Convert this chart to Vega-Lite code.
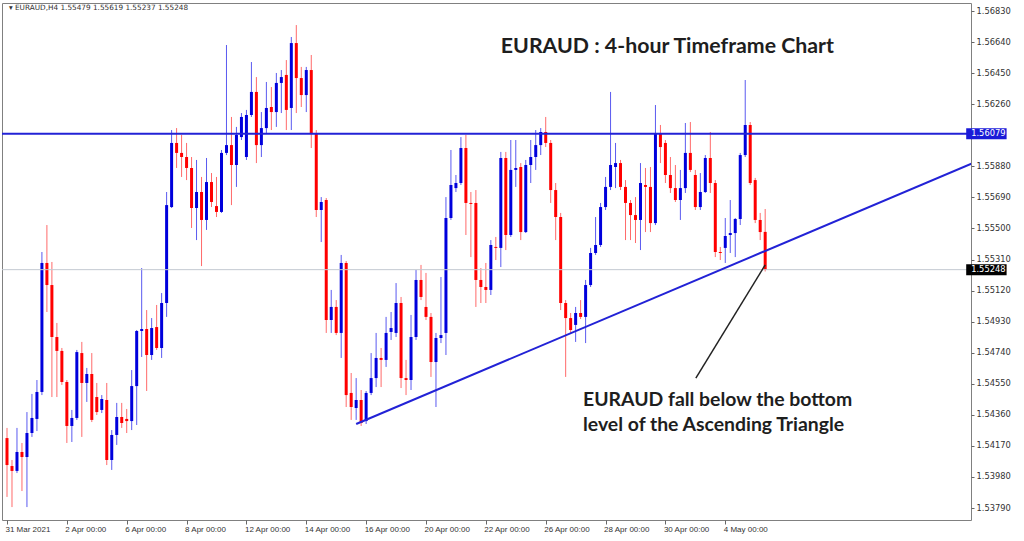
{
"$schema": "https://vega.github.io/schema/vega-lite/v6.json",
"width": 969, "height": 517,
"autosize": {"type": "none"},
"padding": {"left": 2, "top": 3, "right": 53, "bottom": 21},
"background": "white",
"config": {"view": {"stroke": "#808080", "strokeWidth": 1}, "axis": {"grid": false}},
"data": {"values": [{}]},
"datasets": {
"candles": [
{"i":0,"o":1.54218,"h":1.54280,"l":1.53858,"c":1.54053},
{"i":1,"o":1.54047,"h":1.54084,"l":1.53796,"c":1.54017},
{"i":2,"o":1.54017,"h":1.54280,"l":1.54004,"c":1.54133},
{"i":3,"o":1.54133,"h":1.54188,"l":1.53894,"c":1.54102},
{"i":4,"o":1.54102,"h":1.54377,"l":1.53796,"c":1.54249},
{"i":5,"o":1.54249,"h":1.54488,"l":1.54225,"c":1.54341},
{"i":6,"o":1.54335,"h":1.54573,"l":1.54261,"c":1.54500},
{"i":7,"o":1.54500,"h":1.55356,"l":1.54481,"c":1.55289},
{"i":8,"o":1.55289,"h":1.55521,"l":1.54989,"c":1.55154},
{"i":9,"o":1.55154,"h":1.55295,"l":1.54469,"c":1.54836},
{"i":10,"o":1.54836,"h":1.54922,"l":1.54469,"c":1.54751},
{"i":11,"o":1.54751,"h":1.54769,"l":1.54543,"c":1.54561},
{"i":12,"o":1.54561,"h":1.54573,"l":1.54188,"c":1.54292},
{"i":13,"o":1.54292,"h":1.54390,"l":1.54194,"c":1.54341},
{"i":14,"o":1.54341,"h":1.54757,"l":1.54329,"c":1.54744},
{"i":15,"o":1.54738,"h":1.54806,"l":1.54225,"c":1.54555},
{"i":16,"o":1.54555,"h":1.54647,"l":1.54439,"c":1.54610},
{"i":17,"o":1.54610,"h":1.54738,"l":1.54316,"c":1.54329},
{"i":18,"o":1.54469,"h":1.54555,"l":1.54359,"c":1.54377},
{"i":19,"o":1.54390,"h":1.54481,"l":1.54371,"c":1.54457},
{"i":20,"o":1.54451,"h":1.54555,"l":1.54053,"c":1.54084},
{"i":21,"o":1.54084,"h":1.54267,"l":1.54023,"c":1.54237},
{"i":22,"o":1.54237,"h":1.54433,"l":1.54176,"c":1.54347},
{"i":23,"o":1.54347,"h":1.54433,"l":1.54280,"c":1.54310},
{"i":24,"o":1.54335,"h":1.54396,"l":1.54249,"c":1.54322},
{"i":25,"o":1.54322,"h":1.54634,"l":1.54267,"c":1.54536},
{"i":26,"o":1.54536,"h":1.54879,"l":1.54298,"c":1.54873},
{"i":27,"o":1.54873,"h":1.55258,"l":1.54714,"c":1.54885},
{"i":28,"o":1.54885,"h":1.55001,"l":1.54506,"c":1.54726},
{"i":29,"o":1.54726,"h":1.54952,"l":1.54696,"c":1.54891},
{"i":30,"o":1.54897,"h":1.55032,"l":1.54757,"c":1.54769},
{"i":31,"o":1.54769,"h":1.55105,"l":1.54708,"c":1.55044},
{"i":32,"o":1.55044,"h":1.55723,"l":1.54959,"c":1.55643},
{"i":33,"o":1.55631,"h":1.56102,"l":1.55625,"c":1.56023},
{"i":34,"o":1.56023,"h":1.56114,"l":1.55870,"c":1.55962},
{"i":35,"o":1.55962,"h":1.56072,"l":1.55815,"c":1.55937},
{"i":36,"o":1.55937,"h":1.56023,"l":1.55796,"c":1.55870},
{"i":37,"o":1.55870,"h":1.55937,"l":1.55503,"c":1.55625},
{"i":38,"o":1.55625,"h":1.55919,"l":1.55429,"c":1.55723},
{"i":39,"o":1.55723,"h":1.55815,"l":1.55270,"c":1.55552},
{"i":40,"o":1.55552,"h":1.55931,"l":1.55491,"c":1.55784},
{"i":41,"o":1.55784,"h":1.55839,"l":1.55631,"c":1.55662},
{"i":42,"o":1.55637,"h":1.55815,"l":1.55570,"c":1.55601},
{"i":43,"o":1.55601,"h":1.55980,"l":1.55595,"c":1.55962},
{"i":44,"o":1.55962,"h":1.56622,"l":1.55949,"c":1.56010},
{"i":45,"o":1.56010,"h":1.56182,"l":1.55643,"c":1.55888},
{"i":46,"o":1.55888,"h":1.56121,"l":1.55754,"c":1.56072},
{"i":47,"o":1.56059,"h":1.56206,"l":1.56041,"c":1.56182},
{"i":48,"o":1.55937,"h":1.56225,"l":1.55919,"c":1.56194},
{"i":49,"o":1.56194,"h":1.56518,"l":1.56182,"c":1.56335},
{"i":50,"o":1.56335,"h":1.56426,"l":1.55900,"c":1.56010},
{"i":51,"o":1.56010,"h":1.56212,"l":1.55937,"c":1.56114},
{"i":52,"o":1.56114,"h":1.56396,"l":1.56084,"c":1.56237},
{"i":53,"o":1.56243,"h":1.56365,"l":1.56102,"c":1.56212},
{"i":54,"o":1.56212,"h":1.56451,"l":1.56121,"c":1.56390},
{"i":55,"o":1.56390,"h":1.56469,"l":1.56206,"c":1.56426},
{"i":56,"o":1.56439,"h":1.56530,"l":1.56102,"c":1.56225},
{"i":57,"o":1.56237,"h":1.56671,"l":1.56102,"c":1.56634},
{"i":58,"o":1.56634,"h":1.56744,"l":1.56206,"c":1.56420},
{"i":59,"o":1.56420,"h":1.56488,"l":1.56243,"c":1.56316},
{"i":60,"o":1.56316,"h":1.56488,"l":1.56212,"c":1.56469},
{"i":61,"o":1.56469,"h":1.56561,"l":1.55992,"c":1.56084},
{"i":62,"o":1.56084,"h":1.56102,"l":1.55570,"c":1.55613},
{"i":63,"o":1.55613,"h":1.55692,"l":1.55417,"c":1.55662},
{"i":64,"o":1.55674,"h":1.55686,"l":1.54861,"c":1.54940},
{"i":65,"o":1.54940,"h":1.55124,"l":1.54861,"c":1.55020},
{"i":66,"o":1.55020,"h":1.55062,"l":1.54848,"c":1.54861},
{"i":67,"o":1.54861,"h":1.55338,"l":1.54708,"c":1.55289},
{"i":68,"o":1.55289,"h":1.55301,"l":1.54408,"c":1.54481},
{"i":69,"o":1.54494,"h":1.54616,"l":1.54329,"c":1.54408},
{"i":70,"o":1.54402,"h":1.54585,"l":1.54329,"c":1.54451},
{"i":71,"o":1.54451,"h":1.54512,"l":1.54292,"c":1.54310},
{"i":72,"o":1.54322,"h":1.54506,"l":1.54304,"c":1.54494},
{"i":73,"o":1.54494,"h":1.54738,"l":1.54481,"c":1.54585},
{"i":74,"o":1.54585,"h":1.54861,"l":1.54530,"c":1.54708},
{"i":75,"o":1.54708,"h":1.54769,"l":1.54530,"c":1.54696},
{"i":76,"o":1.54696,"h":1.54959,"l":1.54653,"c":1.54861},
{"i":77,"o":1.54867,"h":1.54989,"l":1.54818,"c":1.54891},
{"i":78,"o":1.54861,"h":1.55166,"l":1.54836,"c":1.55044},
{"i":79,"o":1.55044,"h":1.55081,"l":1.54524,"c":1.54585},
{"i":80,"o":1.54585,"h":1.54696,"l":1.54481,"c":1.54573},
{"i":81,"o":1.54573,"h":1.54971,"l":1.54512,"c":1.54836},
{"i":82,"o":1.54836,"h":1.55246,"l":1.54818,"c":1.55185},
{"i":83,"o":1.55185,"h":1.55277,"l":1.55062,"c":1.55081},
{"i":84,"o":1.55020,"h":1.55228,"l":1.54940,"c":1.54959},
{"i":85,"o":1.54959,"h":1.54983,"l":1.54592,"c":1.54683},
{"i":86,"o":1.54683,"h":1.54861,"l":1.54408,"c":1.54830},
{"i":87,"o":1.54830,"h":1.55203,"l":1.54799,"c":1.54848},
{"i":88,"o":1.54861,"h":1.55692,"l":1.54726,"c":1.55564},
{"i":89,"o":1.55564,"h":1.55980,"l":1.55552,"c":1.55766},
{"i":90,"o":1.55747,"h":1.55827,"l":1.55723,"c":1.55778},
{"i":91,"o":1.55778,"h":1.56059,"l":1.55766,"c":1.55992},
{"i":92,"o":1.55992,"h":1.56072,"l":1.55460,"c":1.55656},
{"i":93,"o":1.55656,"h":1.55723,"l":1.55325,"c":1.55650},
{"i":94,"o":1.55656,"h":1.55735,"l":1.55020,"c":1.55185},
{"i":95,"o":1.55185,"h":1.55258,"l":1.55044,"c":1.55142},
{"i":96,"o":1.55142,"h":1.55289,"l":1.55044,"c":1.55124},
{"i":97,"o":1.55124,"h":1.55429,"l":1.55093,"c":1.55399},
{"i":98,"o":1.55387,"h":1.55448,"l":1.55307,"c":1.55381},
{"i":99,"o":1.55381,"h":1.55968,"l":1.55264,"c":1.55931},
{"i":100,"o":1.55931,"h":1.55968,"l":1.55368,"c":1.55460},
{"i":101,"o":1.55460,"h":1.56041,"l":1.55448,"c":1.55858},
{"i":102,"o":1.55858,"h":1.56041,"l":1.55754,"c":1.55870},
{"i":103,"o":1.55876,"h":1.55900,"l":1.55429,"c":1.55478},
{"i":104,"o":1.55478,"h":1.55919,"l":1.55472,"c":1.55888},
{"i":105,"o":1.55888,"h":1.56041,"l":1.55778,"c":1.55937},
{"i":106,"o":1.55937,"h":1.56102,"l":1.55858,"c":1.56010},
{"i":107,"o":1.56010,"h":1.56114,"l":1.55949,"c":1.56090},
{"i":108,"o":1.56090,"h":1.56182,"l":1.55998,"c":1.56023},
{"i":109,"o":1.56023,"h":1.56041,"l":1.55656,"c":1.55735},
{"i":110,"o":1.55735,"h":1.55778,"l":1.55429,"c":1.55570},
{"i":111,"o":1.55570,"h":1.55595,"l":1.55001,"c":1.55044},
{"i":112,"o":1.55044,"h":1.55062,"l":1.54592,"c":1.54952},
{"i":113,"o":1.54952,"h":1.54983,"l":1.54861,"c":1.54879},
{"i":114,"o":1.54910,"h":1.55020,"l":1.54806,"c":1.54983},
{"i":115,"o":1.54983,"h":1.55062,"l":1.54946,"c":1.54959},
{"i":116,"o":1.54959,"h":1.55185,"l":1.54799,"c":1.55154},
{"i":117,"o":1.55154,"h":1.55381,"l":1.55142,"c":1.55350},
{"i":118,"o":1.55350,"h":1.55570,"l":1.55338,"c":1.55399},
{"i":119,"o":1.55399,"h":1.55656,"l":1.55387,"c":1.55631},
{"i":120,"o":1.55631,"h":1.55815,"l":1.55613,"c":1.55754},
{"i":121,"o":1.55754,"h":1.56335,"l":1.55735,"c":1.55888},
{"i":122,"o":1.55876,"h":1.56023,"l":1.55747,"c":1.55900},
{"i":123,"o":1.55900,"h":1.55919,"l":1.55735,"c":1.55754},
{"i":124,"o":1.55754,"h":1.55796,"l":1.55429,"c":1.55656},
{"i":125,"o":1.55656,"h":1.55674,"l":1.55429,"c":1.55582},
{"i":126,"o":1.55582,"h":1.55692,"l":1.55411,"c":1.55552},
{"i":127,"o":1.55552,"h":1.55900,"l":1.55368,"c":1.55778},
{"i":128,"o":1.55766,"h":1.55870,"l":1.55478,"c":1.55754},
{"i":129,"o":1.55754,"h":1.55876,"l":1.55478,"c":1.55533},
{"i":130,"o":1.55533,"h":1.56255,"l":1.55521,"c":1.56084},
{"i":131,"o":1.56084,"h":1.56133,"l":1.55900,"c":1.55998},
{"i":132,"o":1.56023,"h":1.56041,"l":1.55778,"c":1.55827},
{"i":133,"o":1.55827,"h":1.55937,"l":1.55717,"c":1.55747},
{"i":134,"o":1.55747,"h":1.55888,"l":1.55662,"c":1.55674},
{"i":135,"o":1.55674,"h":1.55858,"l":1.55552,"c":1.55747},
{"i":136,"o":1.55747,"h":1.56145,"l":1.55717,"c":1.55962},
{"i":137,"o":1.55962,"h":1.56151,"l":1.55845,"c":1.55858},
{"i":138,"o":1.55827,"h":1.55858,"l":1.55613,"c":1.55631},
{"i":139,"o":1.55631,"h":1.55839,"l":1.55613,"c":1.55723},
{"i":140,"o":1.55723,"h":1.55949,"l":1.55717,"c":1.55931},
{"i":141,"o":1.55931,"h":1.56090,"l":1.55717,"c":1.55778},
{"i":142,"o":1.55778,"h":1.55796,"l":1.55325,"c":1.55356},
{"i":143,"o":1.55356,"h":1.55387,"l":1.55307,"c":1.55350},
{"i":144,"o":1.55381,"h":1.55564,"l":1.55289,"c":1.55454},
{"i":145,"o":1.55460,"h":1.55674,"l":1.55350,"c":1.55472},
{"i":146,"o":1.55472,"h":1.55564,"l":1.55325,"c":1.55558},
{"i":147,"o":1.55558,"h":1.55962,"l":1.55521,"c":1.55949},
{"i":148,"o":1.55949,"h":1.56408,"l":1.55937,"c":1.56133},
{"i":149,"o":1.56133,"h":1.56151,"l":1.55766,"c":1.55778},
{"i":150,"o":1.55796,"h":1.55809,"l":1.55533,"c":1.55552},
{"i":151,"o":1.55552,"h":1.55595,"l":1.55429,"c":1.55478},
{"i":152,"o":1.55479,"h":1.55619,"l":1.55237,"c":1.55248}
],
"trend": [{"i":70,"p":1.54304},{"i":200,"p":1.55982}]
},
"layer": [
{
"data": {"name": "candles"},
"mark": {"type": "rule", "strokeWidth": 1, "clip": true},
"encoding": {
"x": {"field": "i", "type": "quantitative", "scale": {"domain": [0, 192.26], "nice": false, "zero": false},
 "axis": {"title": null, "orient": "bottom", "domain": false, "values": [0,12,24,36,48,60,72,84,96,108,120,132,144], "tickCount": 40,
  "labelExpr": "['31 Mar 2021','2 Apr 00:00','6 Apr 00:00','8 Apr 00:00','12 Apr 00:00','14 Apr 00:00','16 Apr 00:00','20 Apr 00:00','22 Apr 00:00','26 Apr 00:00','28 Apr 00:00','30 Apr 00:00','4 May 00:00'][round(datum.value/12)]",
  "labelAlign": "left", "labelBaseline": "top", "labelPadding": 1, "labelOffset": -2, "tickSize": 4, "tickColor": "#666", "labelColor": "#333", "labelFont": "Liberation Sans", "labelFontSize": 8, "labelOverlap": false, "labelFlush": false, "labelBound": false}},
"y": {"field": "l", "type": "quantitative", "scale": {"domain": [1.537169, 1.56879], "nice": false, "zero": false},
 "axis": {"title": null, "orient": "right", "domain": false, "values": [1.5683,1.5664,1.5645,1.5626,1.5588,1.5569,1.555,1.5531,1.5512,1.5493,1.5474,1.5455,1.5436,1.5417,1.5398,1.5379], "tickCount": 40,
  "format": ".5f", "tickSize": 3, "tickColor": "#666", "labelColor": "#333", "labelFont": "DejaVu Sans", "labelFontSize": 8.3, "labelPadding": 2, "labelOverlap": false, "labelFlush": false, "labelBound": false}},
"y2": {"field": "h"},
"color": {"condition": {"test": "datum.c >= datum.o", "value": "#5a5af0"}, "value": "#ff6a6a"}
}
},
{
"data": {"name": "candles"},
"mark": {"type": "bar", "width": 3, "clip": true},
"encoding": {
"x": {"field": "i", "type": "quantitative", "title": null},
"y": {"field": "o", "type": "quantitative", "title": null},
"y2": {"field": "c"},
"color": {"condition": {"test": "datum.c >= datum.o", "value": "#0000dc"}, "value": "#ff0000"}
}
},
{
"mark": {"type": "rule", "color": "#c3c9d1", "strokeWidth": 1},
"encoding": {"y": {"datum": 1.55248, "type": "quantitative"}}
},
{
"mark": {"type": "rule", "color": "#2222d6", "strokeWidth": 2},
"encoding": {"y": {"datum": 1.56079, "type": "quantitative"}}
},
{
"data": {"name": "trend"},
"mark": {"type": "line", "color": "#2222d6", "strokeWidth": 2, "clip": true},
"encoding": {
"x": {"field": "i", "type": "quantitative", "title": null},
"y": {"field": "p", "type": "quantitative", "title": null}
}
},
{
"mark": {"type": "rule", "color": "#222222", "strokeWidth": 1.5},
"encoding": {
"x": {"datum": 152, "type": "quantitative"}, "y": {"datum": 1.55277, "type": "quantitative"},
"x2": {"datum": 138.1}, "y2": {"datum": 1.54585}
}
},
{
"mark": {"type": "rule", "color": "#1a1ad8", "strokeWidth": 11, "strokeCap": "butt", "clip": false},
"encoding": {"x": {"datum": 192.3, "type": "quantitative"}, "x2": {"datum": 200.4}, "y": {"datum": 1.56079, "type": "quantitative"}}
},
{
"mark": {"type": "rule", "color": "#000000", "strokeWidth": 11, "strokeCap": "butt", "clip": false},
"encoding": {"x": {"datum": 192.3, "type": "quantitative"}, "x2": {"datum": 200.4}, "y": {"datum": 1.55248, "type": "quantitative"}}
},
{
"mark": {"type": "text", "color": "white", "font": "DejaVu Sans", "fontSize": 8.3, "align": "left", "baseline": "middle", "dx": 5},
"encoding": {"x": {"datum": 192.3, "type": "quantitative"}, "y": {"datum": 1.56079, "type": "quantitative"}, "text": {"value": "1.56079"}}
},
{
"mark": {"type": "text", "color": "white", "font": "DejaVu Sans", "fontSize": 8.3, "align": "left", "baseline": "middle", "dx": 5},
"encoding": {"x": {"datum": 192.3, "type": "quantitative"}, "y": {"datum": 1.55248, "type": "quantitative"}, "text": {"value": "1.55248"}}
},
{
"mark": {"type": "text", "color": "#333333", "font": "DejaVu Sans", "fontSize": 7.3, "align": "left", "baseline": "middle"},
"encoding": {"x": {"datum": 0.4, "type": "quantitative"}, "y": {"datum": 1.56848, "type": "quantitative"}, "text": {"value": "▾ EURAUD,H4  1.55479 1.55619 1.55237 1.55248"}}
},
{
"mark": {"type": "text", "color": "#1e1e1e", "font": "Lato", "fontWeight": "bold", "fontSize": 21.3, "align": "center", "baseline": "middle"},
"encoding": {"x": {"datum": 132.4, "type": "quantitative"}, "y": {"datum": 1.5661, "type": "quantitative"}, "text": {"value": "EURAUD : 4-hour Timeframe Chart"}}
},
{
"mark": {"type": "text", "color": "#1e1e1e", "font": "Lato", "fontWeight": "bold", "fontSize": 19.4, "align": "left", "baseline": "middle"},
"encoding": {"x": {"datum": 115.48, "type": "quantitative"}, "y": {"datum": 1.54451, "type": "quantitative"}, "text": {"value": "EURAUD fall below the bottom"}}
},
{
"mark": {"type": "text", "color": "#1e1e1e", "font": "Lato", "fontWeight": "bold", "fontSize": 19.4, "align": "left", "baseline": "middle"},
"encoding": {"x": {"datum": 115.48, "type": "quantitative"}, "y": {"datum": 1.54298, "type": "quantitative"}, "text": {"value": "level of the Ascending Triangle"}}
}
]
}
